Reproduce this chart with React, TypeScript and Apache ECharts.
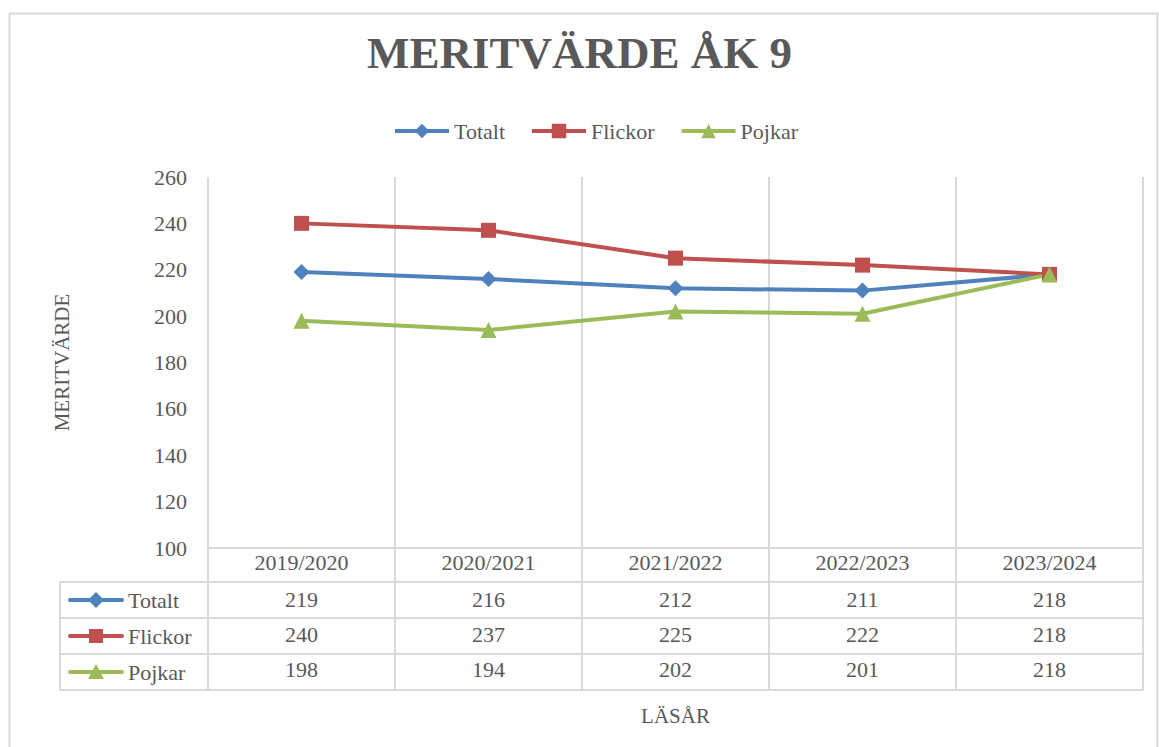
import React, { useEffect, useRef } from "react";
import * as echarts from "echarts";

const categories = ["2019/2020", "2020/2021", "2021/2022", "2022/2023", "2023/2024"];
const seriesNames = ["Totalt", "Flickor", "Pojkar"];
const totalt = [219, 216, 212, 211, 218];
const flickor = [240, 237, 225, 222, 218];
const pojkar = [198, 194, 202, 201, 218];
const yTicks = { min: 100, max: 260, interval: 20 };
const titleText = "MERITVÄRDE ÅK 9";
const yAxisTitle = "MERITVÄRDE";
const xAxisTitle = "LÄSÅR";

const colors = ["#4f81bd", "#c0504d", "#9bbb59"];
const symbols = ["diamond", "rect", "triangle"];
const values = [totalt, flickor, pojkar];
const TXT = "#595959";
const GRID = "#d9d9d9";
const FONT = "Liberation Serif";

export default function App() {
  const ref = useRef<HTMLDivElement>(null);
  useEffect(() => {
    if (!ref.current) return;
    const chart = echarts.init(ref.current, undefined, { renderer: "svg" });
    const gridLeft = 208, gridRight = 1143, axisY = 548;
    const rowOffsets = [37, 72, 107];
    const rowLines = [582, 618, 654, 690];
    const tableLeft = 60;

    const extraAxes = values.map((arr, k) => ({
      type: "category",
      data: categories,
      position: "bottom",
      offset: rowOffsets[k],
      gridIndex: 0,
      axisLine: { show: false },
      axisTick: { show: false },
      splitLine: { show: false },
      axisLabel: {
        color: TXT, fontSize: 22, fontFamily: FONT, margin: 3,
        formatter: (_v: string, i: number) => String(arr[i]),
      },
    }));

    const graphics: any[] = [
      { type: "rect", shape: { x: 9.5, y: 13.5, width: 1148, height: 800 }, style: { fill: "none", stroke: GRID, lineWidth: 2 }, silent: true },
      ...rowLines.map((y) => ({ type: "line", shape: { x1: tableLeft, y1: y, x2: gridRight, y2: y }, style: { stroke: GRID, lineWidth: 2 } })),
      { type: "line", shape: { x1: tableLeft, y1: rowLines[0], x2: tableLeft, y2: rowLines[3] }, style: { stroke: GRID, lineWidth: 2 } },
    ];
    seriesNames.forEach((name, k) => {
      const cy = (rowLines[k] + rowLines[k + 1]) / 2;
      graphics.push({ type: "line", shape: { x1: 70, y1: cy, x2: 122, y2: cy }, style: { stroke: colors[k], lineWidth: 4, lineCap: "round" } });
      const cx = 96;
      if (k === 0) graphics.push({ type: "polygon", shape: { points: [[cx, cy - 8], [cx + 8, cy], [cx, cy + 8], [cx - 8, cy]] }, style: { fill: colors[k] } });
      if (k === 1) graphics.push({ type: "rect", shape: { x: cx - 7, y: cy - 7, width: 14, height: 14 }, style: { fill: colors[k] } });
      if (k === 2) graphics.push({ type: "polygon", shape: { points: [[cx, cy - 8], [cx + 8, cy + 7], [cx - 8, cy + 7]] }, style: { fill: colors[k] } });
      graphics.push({ type: "text", x: 128, y: cy, style: { text: name, fill: TXT, fontSize: 22, fontFamily: FONT, verticalAlign: "middle", align: "left" } });
    });

    chart.setOption({
      animation: false,
      backgroundColor: "#ffffff",
      textStyle: { fontFamily: FONT, color: TXT },
      title: {
        text: titleText, left: "center", top: 25,
        textStyle: { color: TXT, fontSize: 45, fontWeight: "bold", fontFamily: FONT },
      },
      legend: {
        data: seriesNames, left: 388, top: 115,
        itemWidth: 54, itemHeight: 18, itemGap: 25,
        lineStyle: { width: 4 },
        textStyle: { color: TXT, fontSize: 22, fontFamily: FONT },
      },
      grid: { left: gridLeft, right: 1159 - gridRight, top: 177, bottom: 747 - axisY, containLabel: false },
      xAxis: [
        {
          type: "category", data: categories, boundaryGap: true, position: "bottom",
          name: xAxisTitle, nameLocation: "middle", nameGap: 157,
          nameTextStyle: { color: TXT, fontSize: 21, fontFamily: FONT },
          axisLine: { show: true, lineStyle: { color: GRID, width: 2 } },
          axisTick: { show: true, length: 142, lineStyle: { color: GRID, width: 2 } },
          splitLine: { show: true, lineStyle: { color: GRID, width: 2 } },
          axisLabel: { color: TXT, fontSize: 22, fontFamily: FONT, margin: 3 },
        },
        ...extraAxes,
      ],
      yAxis: {
        type: "value", min: yTicks.min, max: yTicks.max, interval: yTicks.interval,
        name: yAxisTitle, nameLocation: "middle", nameGap: 136, nameRotate: 90,
        nameTextStyle: { color: TXT, fontSize: 21, fontFamily: FONT },
        axisLine: { show: false }, axisTick: { show: false }, splitLine: { show: false },
        axisLabel: { color: TXT, fontSize: 22, fontFamily: FONT, margin: 21, padding: [4, 0, 0, 0] },
      },
      series: seriesNames.map((name, k) => ({
        name, type: "line", data: values[k], xAxisIndex: 0,
        symbol: symbols[k], symbolSize: k === 1 ? 15 : 16,
        lineStyle: { color: colors[k], width: 4 },
        itemStyle: { color: colors[k] },
      })),
      graphic: graphics,
    });
    return () => chart.dispose();
  }, []);
  return <div ref={ref} style={{ position: "fixed", left: 0, top: 0, width: 1159, height: 747 }} />;
}
